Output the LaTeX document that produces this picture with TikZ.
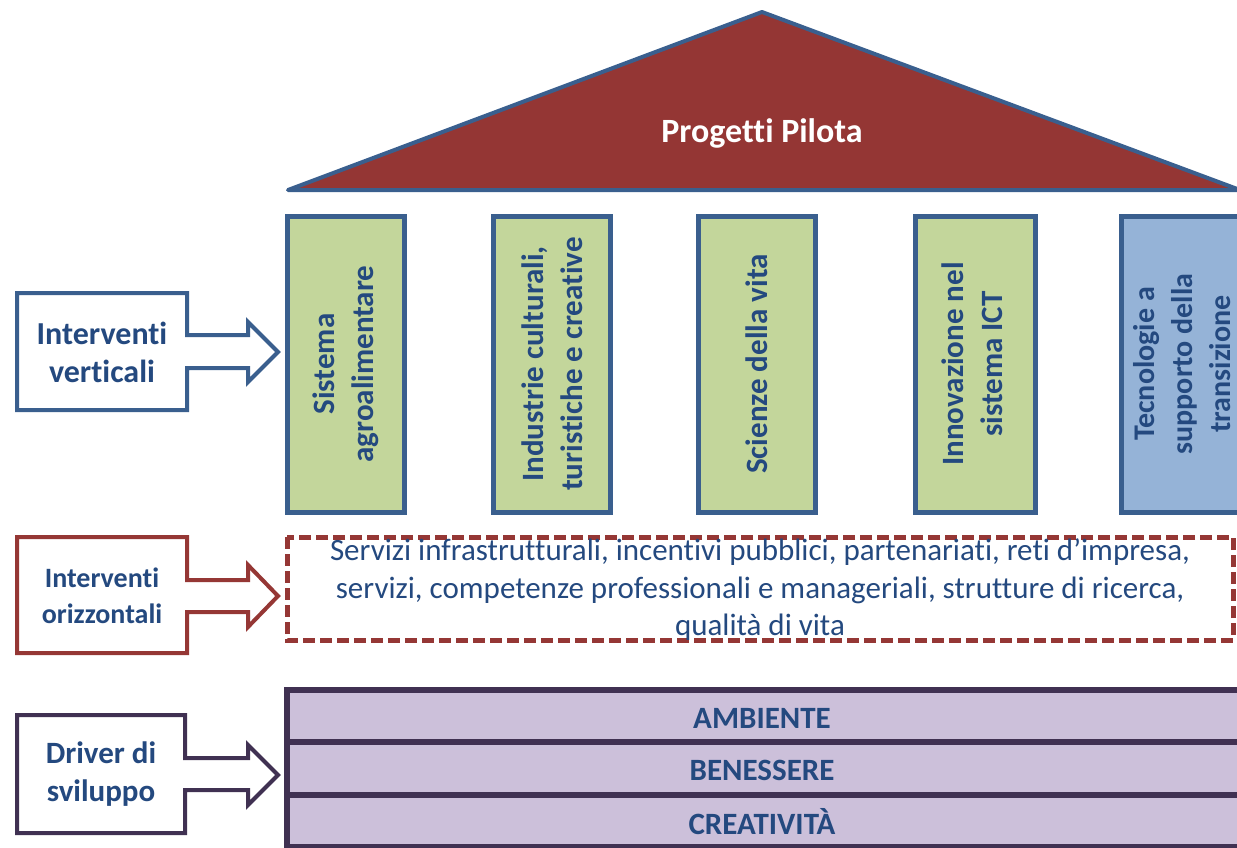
\documentclass[tikz,border=0pt]{standalone}
\usepackage{fontspec}
\setmainfont{Carlito}[Ligatures={NoCommon}]
\definecolor{txtblue}{HTML}{24497F}
\definecolor{colborder}{HTML}{3A5F8E}
\definecolor{greenfill}{HTML}{C3D69B}
\definecolor{bluefill}{HTML}{95B3D7}
\definecolor{roofred}{HTML}{943634}
\definecolor{arrred}{HTML}{953735}
\definecolor{purpfill}{HTML}{CCC0DA}
\definecolor{purpborder}{HTML}{403152}
\tikzset{
  pillar/.style={draw=colborder, line width=5pt, fill=greenfill},
  pillartext/.style={rotate=90, align=center, text=txtblue, font=\bfseries\fontsize{31}{39}\selectfont},
  lbl/.style={align=center, text=txtblue, font=\bfseries\fontsize{31}{38}\selectfont},
  rowbox/.style={draw=purpborder, line width=6pt, fill=purpfill},
  rowtext/.style={text=txtblue, font=\bfseries\fontsize{31}{34}\selectfont},
}
\begin{document}
\begin{tikzpicture}[x=1pt,y=-1pt]
\useasboundingbox (0,0) rectangle (1237,847);
\clip (0,0) rectangle (1237,847);
% roof
\draw[draw=colborder, line width=4pt, fill=roofred, line join=round] (288,190) -- (762,12) -- (1240,190) -- cycle;
\node[text=white, font=\bfseries\fontsize{34}{40}\selectfont] (roof) at (762,133) {Progetti Pilota};
% pillars
\draw[pillar] (287,216) rectangle (404,512);
\draw[pillar] (493,216) rectangle (610,512);
\draw[pillar] (698,216) rectangle (815,512);
\draw[pillar] (915,216) rectangle (1035,512);
\draw[pillar, fill=bluefill] (1121,216) rectangle (1240,512);
\node[pillartext] (p1) at (346,364) {Sistema\\agroalimentare};
\node[pillartext] (p2) at (552,364) {Industrie culturali,\\turistiche e creative};
\node[pillartext] (p3) at (757,364) {Scienze della vita};
\node[pillartext] (p4) at (972,364) {Innovazione nel\\sistema ICT};
\node[pillartext, font=\bfseries\fontsize{30}{38}\selectfont] (p5) at (1182,364) {Tecnologie a\\supporto della\\transizione};
% dashed box
\draw[draw=arrred, line width=5pt, dash pattern=on 12pt off 5pt] (287,537) rectangle (1233,640);
\node[align=center, text=txtblue, font=\fontsize{31}{37.5}\selectfont] (oriz) at (760,590) {Servizi infrastrutturali, incentivi pubblici, partenariati, reti d’impresa,\\servizi, competenze professionali e manageriali, strutture di ricerca,\\qualità di vita};
% drivers
\draw[rowbox] (287,690) rectangle (1240,742);
\draw[rowbox] (287,742) rectangle (1240,795);
\draw[rowbox] (287,795) rectangle (1240,847);
\node[rowtext] (amb) at (762,718) {AMBIENTE};
\node[rowtext] (ben) at (762,770) {BENESSERE};
\node[rowtext] (cre) at (762,822) {CREATIVITÀ};
% left arrows
\draw[draw=colborder, line width=4pt, fill=white, line join=miter]
 (17,293) -- (187,293) -- (187,335) -- (248,335) -- (248,322) -- (278,352) -- (248,382) -- (248,368) -- (187,368) -- (187,410) -- (17,410) -- cycle;
\node[lbl, font=\bfseries\fontsize{32}{38}\selectfont] (lv) at (102,352) {Interventi\\verticali};
\draw[draw=arrred, line width=4pt, fill=white, line join=miter]
 (17,537) -- (187,537) -- (187,580) -- (248,580) -- (248,565) -- (278,596) -- (248,627) -- (248,612) -- (187,612) -- (187,653) -- (17,653) -- cycle;
\node[lbl, font=\bfseries\fontsize{28}{36}\selectfont] (lo) at (102,596) {Interventi\\orizzontali};
\draw[draw=purpborder, line width=4pt, fill=white, line join=miter]
 (17,715) -- (185,715) -- (185,758) -- (248,758) -- (248,745) -- (278,775) -- (248,805) -- (248,790) -- (185,790) -- (185,833) -- (17,833) -- cycle;
\node[lbl] (ld) at (101,774) {Driver di\\sviluppo};
\end{tikzpicture}
\end{document}
